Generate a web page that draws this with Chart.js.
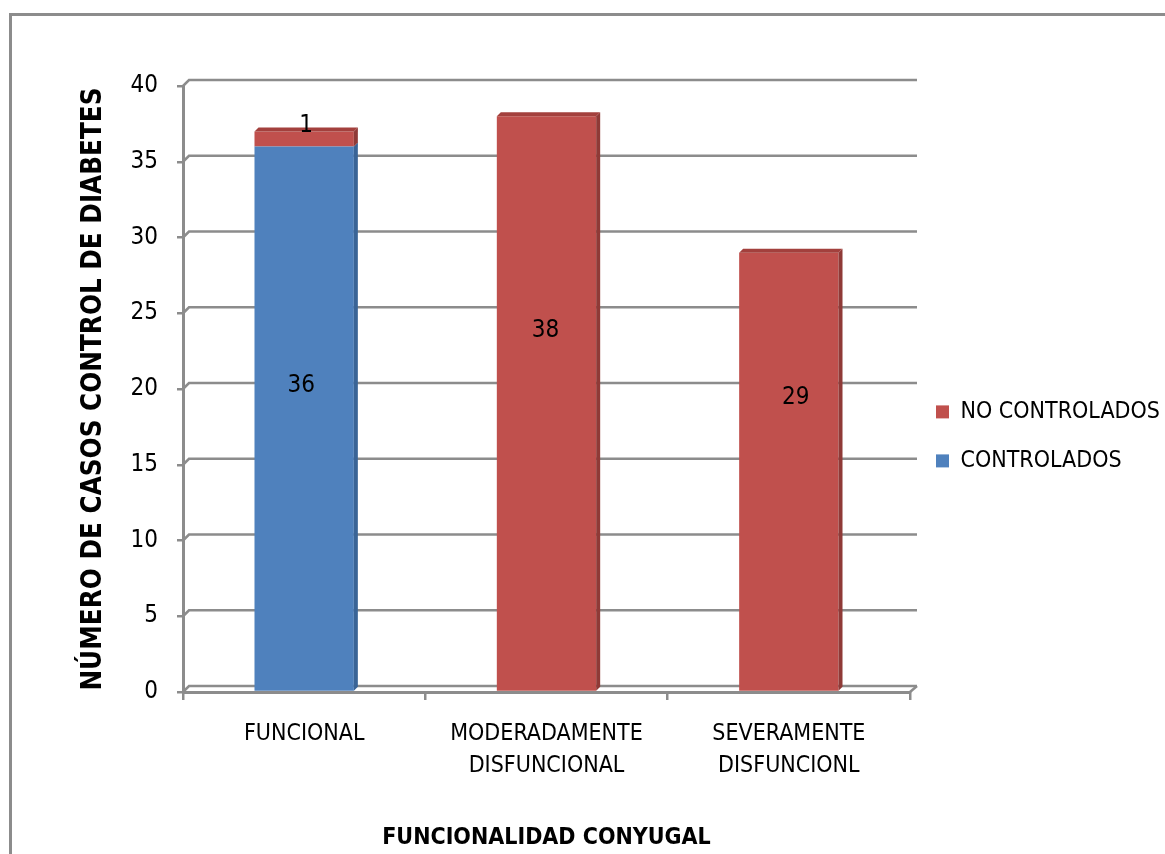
<!DOCTYPE html>
<html>
<head>
<meta charset="utf-8">
<script src="https://cdn.jsdelivr.net/npm/chart.js@4.4.1/dist/chart.umd.min.js"></script>
<style>
  html, body { margin: 0; padding: 0; background: #fff; }
  #wrap { position: relative; width: 1165px; height: 854px; overflow: hidden; }
  #frame { position: absolute; left: 9px; top: 13px; width: 1300px; height: 1000px;
           border-top: 3px solid #8c8c8c; border-left: 3px solid #8c8c8c; }
  canvas { position: absolute; left: 0; top: 0; }
</style>
</head>
<body>
<div id="wrap">
  <div id="frame"></div>
  <canvas id="c" width="1165" height="854"></canvas>
</div>
<script>
const categories = ['FUNCIONAL', ['MODERADAMENTE', 'DISFUNCIONAL'], ['SEVERAMENTE', 'DISFUNCIONL']];
const controlados = [36, 0, 0];
const noControlados = [1, 38, 29];
const yTicks = [0, 5, 10, 15, 20, 25, 30, 35, 40];
const seriesNames = ['CONTROLADOS', 'NO CONTROLADOS'];

const FONT = "'Liberation Sans Narrow', 'Arial Narrow', 'DejaVu Sans Condensed', sans-serif";
const GRID = '#8c8c8c';
const D = 4;

const wallPlugin = {
  id: 'wall',
  beforeDatasetsDraw(chart) {
    const {ctx, chartArea: a, scales: {y}} = chart;
    ctx.save();
    ctx.strokeStyle = GRID;
    ctx.lineWidth = 2.5;
    yTicks.forEach(v => {
      const py = y.getPixelForValue(v);
      ctx.beginPath();
      ctx.moveTo(a.left, py);
      ctx.lineTo(a.left + 6, py - 6);
      ctx.lineTo(a.right + 7, py - 6);
      ctx.stroke();
    });
    const py0 = y.getPixelForValue(0);
    ctx.beginPath();
    ctx.moveTo(a.right, py0);
    ctx.lineTo(a.right + 7, py0 - 6);
    ctx.stroke();
    ctx.restore();
  }
};

const bar3dPlugin = {
  id: 'bar3d',
  afterDatasetsDraw(chart) {
    const {ctx} = chart;
    const sides = ['#3a6496', '#8f3a37'];
    const tops = ['#6a93c8', '#a3403d'];
    ctx.save();
    chart.data.datasets.forEach((ds, di) => {
      const meta = chart.getDatasetMeta(di);
      meta.data.forEach((el, i) => {
        if (!ds.data[i]) return;
        const {x, y, base, width} = el.getProps(['x', 'y', 'base', 'width'], true);
        const r = x + width / 2, l = x - width / 2;
        ctx.fillStyle = sides[di];
        ctx.beginPath();
        ctx.moveTo(r, y); ctx.lineTo(r + D, y - D); ctx.lineTo(r + D, base - D); ctx.lineTo(r, base);
        ctx.closePath(); ctx.fill();
        const isTop = chart.data.datasets.every((d2, dj) => dj <= di || !d2.data[i]);
        if (isTop) {
          ctx.fillStyle = tops[di];
          ctx.beginPath();
          ctx.moveTo(l, y); ctx.lineTo(l + D, y - D); ctx.lineTo(r + D, y - D); ctx.lineTo(r, y);
          ctx.closePath(); ctx.fill();
        }
      });
    });
    ctx.restore();
  }
};

const labelPlugin = {
  id: 'valueLabels',
  afterDatasetsDraw(chart, args, opts) {
    const {ctx} = chart;
    ctx.save();
    ctx.font = '24px ' + FONT;
    ctx.fillStyle = '#000';
    ctx.textAlign = 'center';
    ctx.textBaseline = 'middle';
    chart.data.datasets.forEach((ds, di) => {
      const meta = chart.getDatasetMeta(di);
      meta.data.forEach((el, i) => {
        const v = ds.data[i];
        if (!v) return;
        const {x, y, base} = el.getProps(['x', 'y', 'base'], true);
        const off = (opts.offsets[di] || [])[i] || [0, 0];
        ctx.fillText(String(v), x + off[0], (y + base) / 2 + off[1]);
      });
    });
    ctx.restore();
  }
};

new Chart(document.getElementById('c'), {
  type: 'bar',
  data: {
    labels: categories,
    datasets: [
      { label: seriesNames[0], data: controlados, backgroundColor: '#4f81bd', borderWidth: 0,
        barPercentage: 0.41, categoryPercentage: 1 },
      { label: seriesNames[1], data: noControlados, backgroundColor: '#c0504d', borderWidth: 0,
        barPercentage: 0.41, categoryPercentage: 1 }
    ]
  },
  plugins: [wallPlugin, bar3dPlugin, labelPlugin],
  options: {
    responsive: false,
    animation: false,
    layout: { padding: { left: 70, top: 86, right: 0, bottom: 0 } },
    plugins: {
      tooltip: { enabled: false },
      valueLabels: {
        offsets: [
          [[-3, -33]],
          [[2, -13], [-1, -73], [7, -74]]
        ]
      },
      legend: {
        position: 'right',
        align: 'start',
        reverse: true,
        maxWidth: 255,
        title: { display: true, text: '', font: { size: 12 }, padding: { top: 274, bottom: 0 } },
        labels: {
          boxWidth: 13, boxHeight: 13, padding: 26, color: '#000',
          font: { family: FONT, size: 23 }
        }
      }
    },
    scales: {
      x: {
        stacked: true,
        offset: true,
        afterFit(s) { s.height = 162; },
        grid: { offset: true, drawOnChartArea: false, drawTicks: true, tickLength: 8, color: GRID, lineWidth: 2.5 },
        border: { display: true, color: GRID, width: 3 },
        ticks: { color: '#000', padding: 18, maxRotation: 0, autoSkip: false,
                 font: { family: FONT, size: 23, lineHeight: 1.4 } },
        title: { display: true, text: 'FUNCIONALIDAD CONYUGAL', color: '#000',
                 font: { family: FONT, size: 23, weight: 'bold', lineHeight: 1.2 },
                 padding: { top: 0, bottom: 2 } }
      },
      y: {
        stacked: true,
        min: 0, max: 40,
        afterFit(s) { s.width = 113; },
        afterBuildTicks(s) { s.ticks = yTicks.map(v => ({ value: v })); },
        grid: { drawOnChartArea: false, drawTicks: true, tickLength: 6, color: GRID, lineWidth: 2.5 },
        border: { display: true, color: GRID, width: 3 },
        ticks: { color: '#000', padding: 19, font: { family: FONT, size: 24 } },
        title: { display: true, text: 'NÚMERO DE CASOS CONTROL DE DIABETES', color: '#000',
                 font: { family: FONT, size: 27.5, weight: 'bold', lineHeight: 1.2 },
                 padding: { top: 7, bottom: 0 } }
      }
    }
  }
});
</script>
</body>
</html>
